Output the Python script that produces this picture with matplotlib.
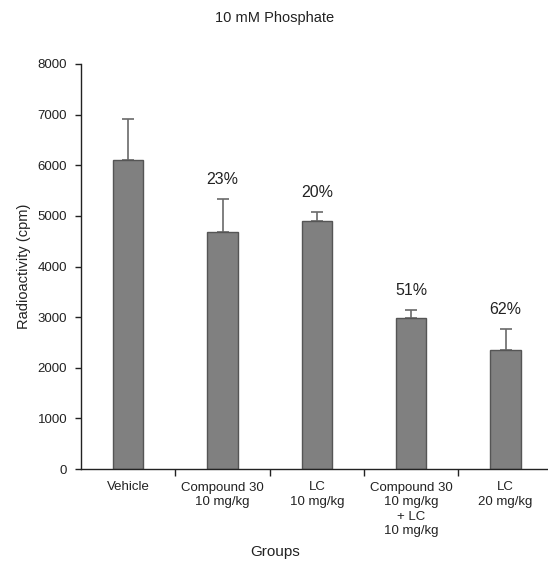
import matplotlib
matplotlib.use("Agg")
import matplotlib.pyplot as plt
import numpy as np

plt.rcParams['font.family'] = ['Liberation Sans', 'DejaVu Sans']

groups = ["Vehicle", "Compound 30\n10 mg/kg", "LC\n10 mg/kg",
          "Compound 30\n10 mg/kg\n+ LC\n10 mg/kg", "LC\n20 mg/kg"]
means = [6100, 4680, 4890, 2990, 2360]
sem = [820, 650, 185, 145, 400]
inhibition = ["", "23%", "20%", "51%", "62%"]
yticks = [0, 1000, 2000, 3000, 4000, 5000, 6000, 7000, 8000]

fig = plt.figure(figsize=(5.48, 5.61), dpi=100)
ax = fig.add_axes([81/548, 1 - 469/561, 1 - 81/548, (469 - 64)/561])

x = np.arange(len(groups))
ax.bar(x, means, width=0.32, color="#808080", edgecolor="#555555", linewidth=1.0, zorder=2)
ax.errorbar(x, means, yerr=[np.zeros(len(sem)), sem], fmt="none", ecolor="#6a6a6a",
            elinewidth=1.2, capsize=4, capthick=1.2, zorder=1)

for xi, m, s, t in zip(x, means, sem, inhibition):
    if t:
        ax.text(xi, m + s + 390, t, ha="center", va="center", fontsize=11.5, color="#222222")

ax.set_xlim(-0.5, 4.45)
ax.set_ylim(0, 8000)
ax.set_yticks(yticks)
ax.set_yticklabels([str(v) for v in yticks], fontsize=9.5, color="#222222")
ax.set_xticks(x)
ax.set_xticklabels(groups, fontsize=9.5, color="#222222", linespacing=1.28, va="top")
ax.tick_params(axis="x", which="major", length=0, pad=9)
ax.set_xticks(x[:-1] + 0.5, minor=True)
ax.tick_params(axis="x", which="minor", length=5, direction="out", width=1, color="#222222")
ax.tick_params(axis="y", length=4, width=1, direction="out", color="#222222", pad=6)

for side in ("top", "right"):
    ax.spines[side].set_visible(False)
for side in ("left", "bottom"):
    ax.spines[side].set_color("#222222")
    ax.spines[side].set_linewidth(1.0)

ax.set_ylabel("Radioactivity (cpm)", fontsize=10.5, color="#222222", labelpad=5)
fig.text(275/548, 1 - 552/561, "Groups", ha="center", va="center", fontsize=11, color="#222222")
fig.text(275/548, 1 - 18/561, "10 mM Phosphate", ha="center", va="center", fontsize=10.5, color="#222222")

fig.savefig("out.png", dpi=100)
